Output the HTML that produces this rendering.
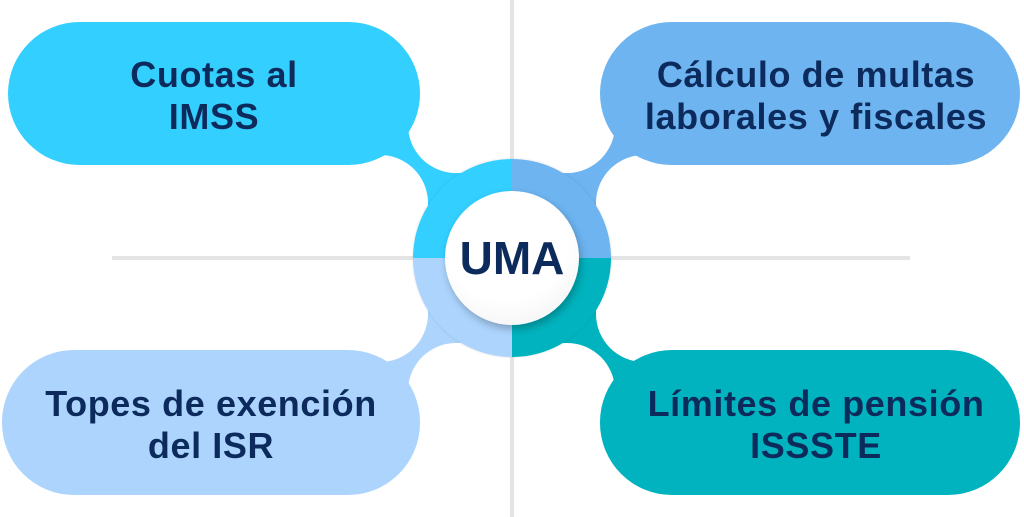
<!DOCTYPE html>
<html><head><meta charset="utf-8"><style>
body{margin:0;background:#fff}
#c{position:relative;width:1024px;height:517px;overflow:hidden;background:#fff;font-family:"Liberation Sans",sans-serif}
.a{position:absolute}
.pill{position:absolute;border-radius:72px;display:flex;align-items:center;justify-content:center;text-align:center;color:#0c2b5c;font-weight:bold;font-size:36px;line-height:42px;letter-spacing:0.6px}
.blob{position:absolute;background:#fff;border-radius:48px}
</style></head><body><div id="c">
<div class="a" style="left:380px;top:130px;width:132px;height:128px;background:#33cfff"></div>
<div class="a" style="left:512px;top:130px;width:132px;height:128px;background:#6db4f0"></div>
<div class="a" style="left:380px;top:258px;width:132px;height:128px;background:#acd4fd"></div>
<div class="a" style="left:512px;top:258px;width:132px;height:128px;background:#00b3be"></div>
<div class="blob" style="left:408px;top:0;width:207px;height:173px"></div>
<div class="blob" style="left:408px;top:343px;width:207px;height:174px"></div>
<div class="blob" style="left:290px;top:155px;width:138px;height:207px"></div>
<div class="blob" style="left:596px;top:155px;width:140px;height:207px"></div>
<div class="a" style="left:510px;top:0;width:4px;height:517px;background:#e4e4e4"></div>
<div class="a" style="left:112px;top:256px;width:798px;height:4px;background:#e4e4e4"></div>
<div class="pill" style="left:8px;top:22px;width:412px;height:143px;background:#33cfff"><div style="margin-top:4px">Cuotas al<br>IMSS</div></div>
<div class="pill" style="left:600px;top:22px;width:420px;height:143px;background:#6db4f0"><div style="margin-top:4px;margin-left:12px">Cálculo de multas<br>laborales y fiscales</div></div>
<div class="pill" style="left:2px;top:350px;width:418px;height:145px;background:#acd4fd"><div style="margin-top:4px">Topes de exención<br>del ISR</div></div>
<div class="pill" style="left:600px;top:350px;width:420px;height:145px;background:#00b3be"><div style="margin-top:4px;margin-left:12px">Límites de pensión<br>ISSSTE</div></div>
<div class="a" style="left:413px;top:159px;width:198px;height:198px;border-radius:50%;overflow:hidden;box-shadow:0 0 2px rgba(0,0,0,.15)">
<div class="a" style="left:0;top:0;width:99px;height:99px;background:#33cfff"></div>
<div class="a" style="left:99px;top:0;width:99px;height:99px;background:#6db4f0"></div>
<div class="a" style="left:0;top:99px;width:99px;height:99px;background:#acd4fd"></div>
<div class="a" style="left:99px;top:99px;width:99px;height:99px;background:#00b3be"></div>
</div>
<div class="a" style="left:445px;top:191px;width:134px;height:134px;border-radius:50%;background:radial-gradient(circle at 45% 35%,#fff 55%,#eee);box-shadow:2px 4px 8px rgba(0,0,0,.25);display:flex;align-items:center;justify-content:center;color:#0c2b5c;font-weight:bold;font-size:46px">UMA</div>
</div></body></html>
